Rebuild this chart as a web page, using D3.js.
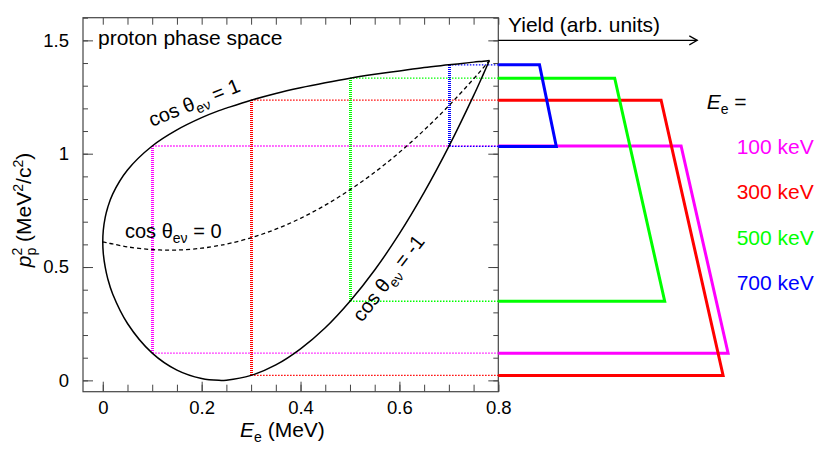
<!DOCTYPE html>
<html>
<head>
<meta charset="utf-8">
<script src="https://cdn.jsdelivr.net/npm/d3@7/dist/d3.min.js"></script>
<style>
  html, body { margin: 0; padding: 0; background: #fff; }
  svg { display: block; font-family: "Liberation Sans", Arial, Helvetica, sans-serif; }
</style>
</head>
<body>
<svg id="chart" width="830" height="451"></svg>
<script>
// ---- data ----
const Ee =        [0, 0.001, 0.005, 0.01, 0.02, 0.05, 0.1, 0.15, 0.2, 0.235, 0.25, 0.3, 0.35, 0.4, 0.45, 0.5, 0.55, 0.6, 0.65, 0.7, 0.75, 0.77, 0.782];
const pUpper =    [0.611, 0.661, 0.720, 0.763, 0.822, 0.928, 1.034, 1.105, 1.159, 1.190, 1.201, 1.236, 1.266, 1.291, 1.313, 1.333, 1.350, 1.365, 1.380, 1.392, 1.404, 1.408, 1.411];
const pMiddle =   [0.611, 0.610, 0.609, 0.606, 0.602, 0.589, 0.577, 0.575, 0.583, 0.595, 0.601, 0.629, 0.667, 0.715, 0.773, 0.841, 0.918, 1.006, 1.104, 1.212, 1.330, 1.380, 1.411];
const pLower =    [0.611, 0.561, 0.498, 0.449, 0.381, 0.251, 0.120, 0.045, 0.008, 0.000, 0.001, 0.022, 0.068, 0.139, 0.232, 0.349, 0.487, 0.647, 0.829, 1.032, 1.256, 1.352, 1.411];

const selE =        [0.1, 0.3, 0.5, 0.7];
const selUp =       [1.034, 1.236, 1.333, 1.392];
const selLow =      [0.120, 0.022, 0.349, 1.032];
const yieldTop =    [91.4, 81.4, 58.2, 20.6];
const yieldBottom = [114.9, 112.4, 83.2, 29.0];
const selLabels =   ["100 keV", "300 keV", "500 keV", "700 keV"];
const selColors =   ["#ff00ff", "#ff0000", "#00ff00", "#0000ff"];

const xMajor = [0, 0.2, 0.4, 0.6, 0.8];
const xMajorLabels = ["0", "0.2", "0.4", "0.6", "0.8"];
const xMinor = d3.range(0, 0.801, 0.05);
const yMajor = [0, 0.5, 1, 1.5];
const yMajorLabels = ["0", "0.5", "1", "1.5"];
const yMinor = d3.range(0, 1.601, 0.1);

// ---- scales ----
const svg = d3.select("#chart");
const x = d3.scaleLinear().domain([-0.04, 0.8]).range([83, 498.3]);
const y = d3.scaleLinear().domain([-0.05, 1.6]).range([391.7, 17.7]);
const yx = d3.scaleLinear().domain([0, 100]).range([x(0.8), x(0.8) + 200]);

const X0 = x.range()[0], X1 = x.range()[1], Y0 = y.range()[0], Y1 = y.range()[1];

// ---- axes (ticks only, frame drawn separately) ----
function styleAxis(g) {
  g.select(".domain").remove();
  g.selectAll(".tick line").attr("stroke", "#444").attr("stroke-width", 1);
  g.selectAll(".tick text").attr("fill", "#000").attr("font-size", 18.5)
    .attr("font-family", "Liberation Sans, Arial, sans-serif");
}
svg.append("g").attr("transform", `translate(0,${Y0})`)
  .call(d3.axisBottom(x).tickValues(xMinor).tickFormat("").tickSize(-7)).call(styleAxis);
svg.append("g").attr("transform", `translate(0,${Y0})`)
  .call(d3.axisBottom(x).tickValues(xMajor).tickFormat((d, i) => xMajorLabels[i]).tickSize(-10).tickPadding(9)).call(styleAxis);
svg.append("g").attr("transform", `translate(0,${Y1})`)
  .call(d3.axisTop(x).tickValues(xMinor).tickFormat("").tickSize(-7)).call(styleAxis);
svg.append("g").attr("transform", `translate(${X0},0)`)
  .call(d3.axisLeft(y).tickValues(yMinor).tickFormat("").tickSize(-5)).call(styleAxis);
svg.append("g").attr("transform", `translate(${X0},0)`)
  .call(d3.axisLeft(y).tickValues(yMajor).tickFormat((d, i) => yMajorLabels[i]).tickSize(-10).tickPadding(14)).call(styleAxis);
svg.append("g").attr("transform", `translate(${X1},0)`)
  .call(d3.axisRight(y).tickValues(yMinor).tickFormat("").tickSize(-5)).call(styleAxis);
svg.append("g").attr("transform", `translate(${X1},0)`)
  .call(d3.axisRight(y).tickValues(yMajor).tickFormat("").tickSize(-10)).call(styleAxis);

// frame
svg.append("rect").attr("x", X0).attr("y", Y1).attr("width", X1 - X0).attr("height", Y0 - Y1)
  .attr("fill", "none").attr("stroke", "#444").attr("stroke-width", 1.2);

// ---- dotted guide lines ----
const guides = svg.append("g");
selE.forEach((e, i) => {
  guides.append("line").attr("x1", x(e)).attr("x2", X1).attr("y1", y(selUp[i])).attr("y2", y(selUp[i]))
    .attr("stroke", selColors[i]).attr("stroke-width", 1.3).attr("stroke-dasharray", "1.5,1.5");
  guides.append("line").attr("x1", x(e)).attr("x2", X1).attr("y1", y(selLow[i])).attr("y2", y(selLow[i]))
    .attr("stroke", selColors[i]).attr("stroke-width", 1.3).attr("stroke-dasharray", "1.5,1.5");
  const xc = Math.round(x(e)) + 0.5;
  guides.append("line").attr("x1", xc).attr("x2", xc)
    .attr("y1", Math.round(y(selLow[i]))).attr("y2", Math.round(y(selUp[i])))
    .attr("stroke", selColors[i]).attr("stroke-width", 3).attr("stroke-dasharray", "1,1")
    .attr("shape-rendering", "crispEdges");
});

// ---- phase space curves ----
const line = d3.line().x(d => x(d[0])).y(d => y(d[1])).curve(d3.curveCatmullRom.alpha(0.5));
const loop = [];
for (let i = Ee.length - 1; i >= 0; i--) loop.push([Ee[i], pUpper[i]]);
for (let i = 1; i < Ee.length; i++) loop.push([Ee[i], pLower[i]]);
svg.append("path").attr("d", line(loop)).attr("fill", "none").attr("stroke", "#000").attr("stroke-width", 1.5);
svg.append("path").attr("d", line(Ee.map((e, i) => [e, pMiddle[i]])))
  .attr("fill", "none").attr("stroke", "#000").attr("stroke-width", 1.3).attr("stroke-dasharray", "4,3");

// ---- yield shapes ----
const pline = d3.line().x(d => d[0]).y(d => d[1]);
selE.forEach((e, i) => {
  const pts = [[yx(0), y(selUp[i])], [yx(yieldTop[i]), y(selUp[i])], [yx(yieldBottom[i]), y(selLow[i])], [yx(0), y(selLow[i])]];
  svg.append("path").attr("d", pline(pts)).attr("fill", "none")
    .attr("stroke", selColors[i]).attr("stroke-width", 3).attr("stroke-linejoin", "miter");
});

// yield arrow
const ay = y(1.5), ax1 = yx(0), ax2 = yx(99.5);
svg.append("line").attr("x1", ax1).attr("x2", ax2).attr("y1", ay).attr("y2", ay).attr("stroke", "#000").attr("stroke-width", 1.2);
svg.append("path").attr("d", `M${ax2 - 8},${ay - 4.5}L${ax2},${ay}L${ax2 - 8},${ay + 4.5}`)
  .attr("fill", "none").attr("stroke", "#000").attr("stroke-width", 1.2);
svg.append("text").attr("x", 508).attr("y", 31.7).attr("font-size", 21).text("Yield (arb. units)");

// ---- texts ----
svg.append("text").attr("x", 98).attr("y", 45.3).attr("font-size", 21).text("proton phase space");

function cosLabel(g, value) {
  const t = g.append("text").attr("font-size", 20);
  t.append("tspan").text("cos θ");
  t.append("tspan").attr("font-size", 14).attr("dy", 5).text("eν");
  t.append("tspan").attr("dy", -5).text(" = " + value);
  return t;
}
cosLabel(svg.append("g").attr("transform", "translate(152,127) rotate(-22)"), "1");
cosLabel(svg.append("g").attr("transform", "translate(125,238)"), "0");
cosLabel(svg.append("g").attr("transform", "translate(362,323) rotate(-52)"), "-1");

// x title
const xt = svg.append("text").attr("x", 240).attr("y", 437).attr("font-size", 21);
xt.append("tspan").attr("font-style", "italic").text("E");
xt.append("tspan").attr("font-size", 14).attr("dy", 5).text("e");
xt.append("tspan").attr("dy", -5).text(" (MeV)");

// y title
const yt = svg.append("text").attr("transform", "translate(31,210) rotate(-90)").attr("text-anchor", "middle").attr("font-size", 21);
yt.append("tspan").attr("font-style", "italic").text("p");
yt.append("tspan").attr("font-size", 14).attr("dy", -9).text("2");
yt.append("tspan").attr("font-size", 14).attr("dx", -7.8).attr("dy", 14).text("p");
yt.append("tspan").attr("dy", -5).text(" (MeV");
yt.append("tspan").attr("font-size", 14).attr("dy", -8).text("2");
yt.append("tspan").attr("dy", 8).text("/c");
yt.append("tspan").attr("font-size", 14).attr("dy", -8).text("2");
yt.append("tspan").attr("dy", 8).text(")");

// legend
const lt = svg.append("text").attr("x", 706.7).attr("y", 109).attr("font-size", 21);
lt.append("tspan").attr("font-style", "italic").text("E");
lt.append("tspan").attr("font-size", 14).attr("dy", 5).text("e");
lt.append("tspan").attr("dy", -5).text(" =");
selLabels.forEach((s, i) => {
  svg.append("text").attr("x", 736.7).attr("y", 154 + i * 45.3).attr("font-size", 21)
    .attr("fill", selColors[i]).text(s);
});
</script>
</body>
</html>
